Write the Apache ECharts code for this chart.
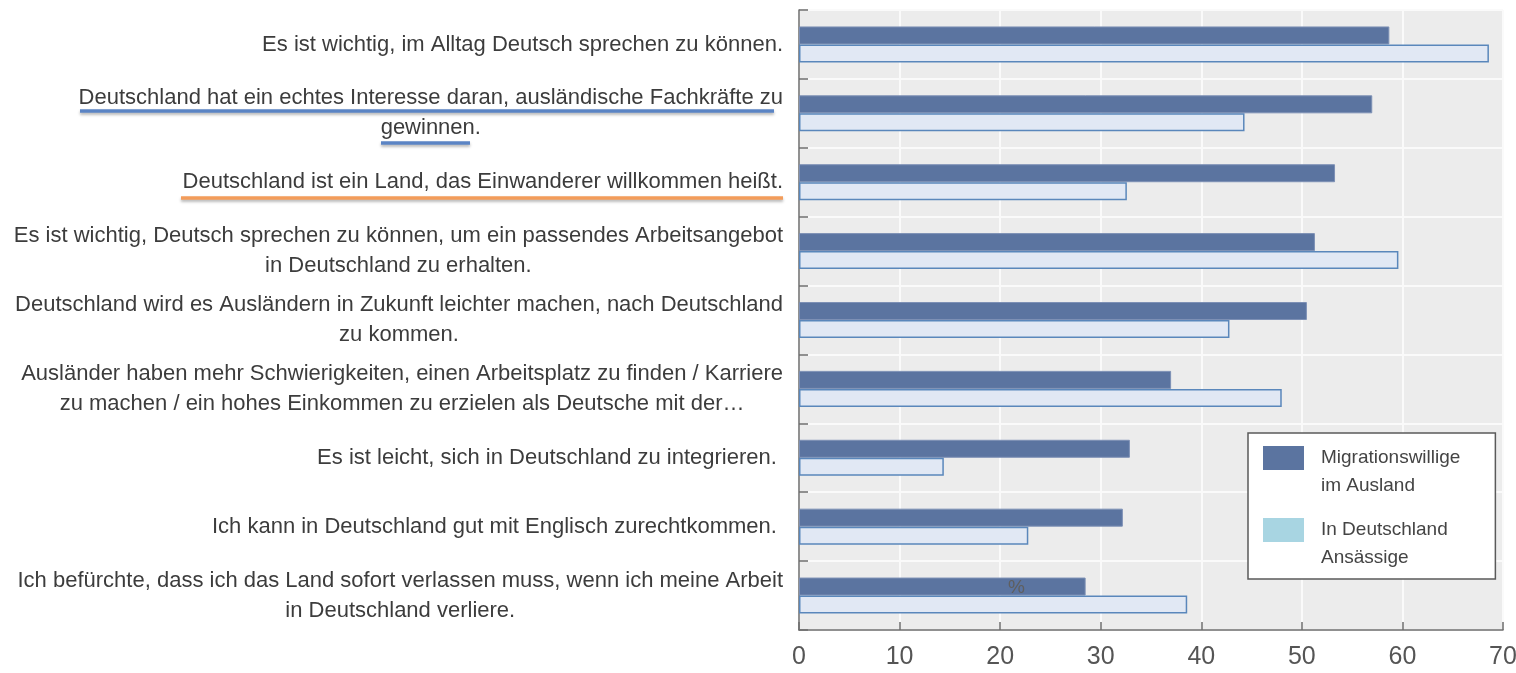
<!DOCTYPE html>
<html>
<head>
<meta charset="utf-8">
<script src="https://cdn.jsdelivr.net/npm/echarts@6/dist/echarts.min.js"></script>
<style>
html, body { margin: 0; padding: 0; background: #fff; }
#chart { width: 1516px; height: 673px; }
</style>
</head>
<body>
<div id="chart"></div>
<script>
var categories = [
	'Es ist wichtig, im Alltag Deutsch sprechen zu können.',
	'Deutschland hat ein echtes Interesse daran, ausländische Fachkräfte zu\ngewinnen.',
	'Deutschland ist ein Land, das Einwanderer willkommen heißt.',
	'Es ist wichtig, Deutsch sprechen zu können, um ein passendes Arbeitsangebot\nin Deutschland zu erhalten.',
	'Deutschland wird es Ausländern in Zukunft leichter machen, nach Deutschland\nzu kommen.',
	'Ausländer haben mehr Schwierigkeiten, einen Arbeitsplatz zu finden / Karriere\nzu machen / ein hohes Einkommen zu erzielen als Deutsche mit der…',
	'Es ist leicht, sich in Deutschland zu integrieren. ',
	'Ich kann in Deutschland gut mit Englisch zurechtkommen. ',
	'Ich befürchte, dass ich das Land sofort verlassen muss, wenn ich meine Arbeit\nin Deutschland verliere.'
];
var seriesNames = ['Migrationswillige\nim Ausland', 'In Deutschland\nAnsässige'];
var abroad = [58.7, 57.0, 53.3, 51.3, 50.5, 37.0, 32.9, 32.2, 28.5];
var resident = [68.6, 44.3, 32.6, 59.6, 42.8, 48.0, 14.4, 22.8, 38.6];
var xTicks = [0, 70, 10];  // min, max, interval
var unitText = '%';

var font = "'Liberation Sans', Arial, sans-serif";
// legend icon: filled box in the upper part, blank padding to push text right
var legendIcon = 'path://M0 0H41V24H0Z M53 52L53 52.01';

var chart = echarts.init(document.getElementById('chart'));
var option = {
	animation : false,
	grid : {
		left : 799,
		right : 13,
		top : 10,
		bottom : 43,
		containLabel : false,
		outerBoundsMode : 'none',
		show : true,
		backgroundColor : '#ececec',
		borderWidth : 0
	},
	legend : {
		orient : 'vertical',
		left : 1248,
		top : 433,
		padding : [ 11, 35, 7, 15 ],
		itemGap : 16,
		itemWidth : 53,
		itemHeight : 52,
		icon : legendIcon,
		backgroundColor : '#fff',
		borderColor : '#5a5a5a',
		borderWidth : 1.5,
		borderRadius : 0,
		textStyle : {
			fontFamily : font,
			fontSize : 19,
			lineHeight : 28,
			color : '#444'
		},
		data : [ {
			name : seriesNames[0],
			itemStyle : { color : '#5b74a0', borderWidth : 0 }
		}, {
			name : seriesNames[1],
			itemStyle : { color : '#a8d5e2', borderWidth : 0 }
		} ]
	},
	xAxis : {
		type : 'value',
		min : xTicks[0],
		max : xTicks[1],
		interval : xTicks[2],
		axisLine : { show : true, lineStyle : { color : '#6e6e6e', width : 1.5 } },
		axisTick : { show : true, inside : true, length : 8, lineStyle : { color : '#6e6e6e', width : 1.5 } },
		splitLine : { show : true, lineStyle : { color : '#fafafa', width : 2 } },
		axisLabel : {
			fontFamily : font,
			fontSize : 25,
			color : '#555',
			margin : 15
		}
	},
	yAxis : {
		type : 'category',
		inverse : true,
		data : categories,
		axisLine : { show : true, lineStyle : { color : '#6e6e6e', width : 1.5 } },
		axisTick : { show : true, inside : true, length : 9, lineStyle : { color : '#6e6e6e', width : 1.5 } },
		splitLine : { show : true, lineStyle : { color : '#fafafa', width : 2 } },
		axisLabel : {
			margin : 16,
			align : 'right',
			formatter : function(v) {
				// centre every line inside the right-aligned block
				return v.split('\n').map(function(l) {
					return '{c|' + l + '}';
				}).join('\n');
			},
			rich : {
				c : {
					align : 'center',
					fontFamily : font,
					fontSize : 22,
					lineHeight : 30,
					color : '#3c3c3c'
				}
			}
		}
	},
	series : [ {
		name : seriesNames[0],
		type : 'bar',
		data : abroad,
		barWidth : 18,
		barGap : '0%',
		itemStyle : { color : '#5b74a0', borderColor : '#7d90b5', borderWidth : 1 }
	}, {
		name : seriesNames[1],
		type : 'bar',
		data : resident,
		barWidth : 18,
		barGap : '0%',
		itemStyle : { color : '#e1e8f4', borderColor : '#5a87bb', borderWidth : 1.5 }
	} ],
	graphic : [ {
		// hand-drawn highlight underlines from the source slide
		type : 'line',
		shape : { x1 : 80, y1 : 111, x2 : 774, y2 : 111 },
		style : { stroke : '#5b84c4', lineWidth : 3.5, shadowBlur : 3, shadowColor : 'rgba(0,0,0,0.3)', shadowOffsetY : 2 }
	}, {
		type : 'line',
		shape : { x1 : 381, y1 : 143, x2 : 470, y2 : 143 },
		style : { stroke : '#5b84c4', lineWidth : 3.5, shadowBlur : 3, shadowColor : 'rgba(0,0,0,0.3)', shadowOffsetY : 2 }
	}, {
		type : 'line',
		shape : { x1 : 181, y1 : 198, x2 : 783, y2 : 198 },
		style : { stroke : '#f39c5a', lineWidth : 3.5, shadowBlur : 3, shadowColor : 'rgba(0,0,0,0.3)', shadowOffsetY : 2 }
	}, {
		type : 'text',
		left : 1008,
		top : 578,
		z : 100,
		style : { text : unitText, fontFamily : font, fontSize : 19, fill : '#5f5f5f' }
	} ]
};
chart.setOption(option);
</script>
</body>
</html>
